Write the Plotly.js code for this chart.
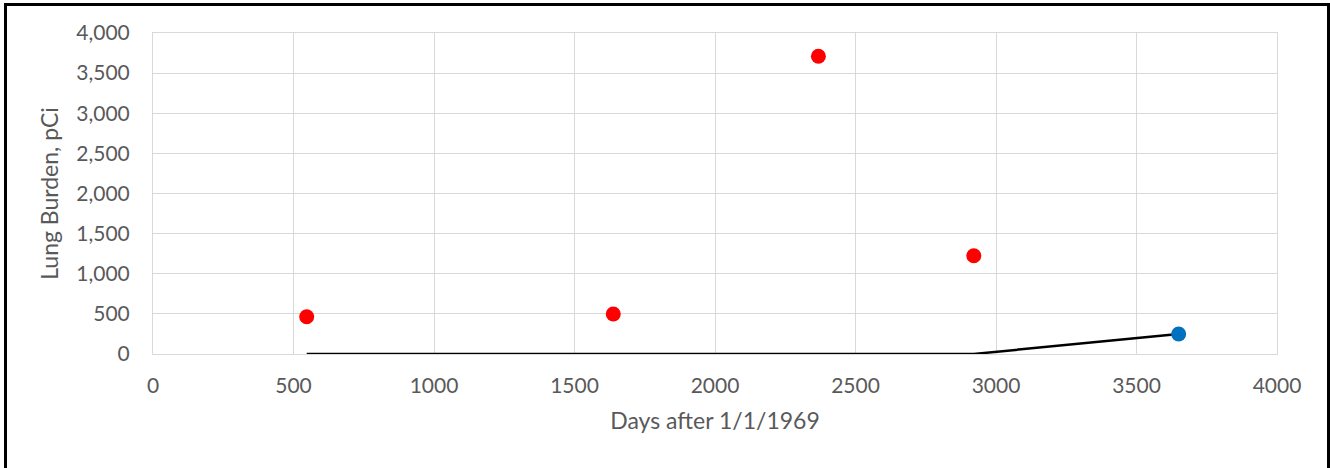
<!DOCTYPE html>
<html>
<head>
<meta charset="utf-8">
<script src="https://cdn.plot.ly/plotly-3.0.1.min.js"></script>
<style>
  html, body { margin: 0; padding: 0; background: #fff; }
  #wrap { position: relative; width: 1330px; height: 468px; overflow: hidden; }
  #chart { position: absolute; left: 0; top: 0; width: 1330px; height: 468px; }
  #frame { position: absolute; left: 4px; top: 3px; width: 1320px; height: 480px;
           border: 3px solid #000; border-bottom: none; pointer-events: none; }
</style>
</head>
<body>
<div id="wrap">
  <div id="chart"></div>
  <div id="frame"></div>
</div>
<script>
// Measured lung burden (red)
var daysMeasured = [547, 1638, 2368, 2921];
var burdenMeasured = [465, 498, 3710, 1225];
// Model line (black)
var daysModel = [547, 2921, 3650];
var burdenModel = [0, 0, 250];
// Final value (blue)
var daysFinal = [3650];
var burdenFinal = [250];

var xTitle = 'Days after 1/1/1969';
var yTitle = 'Lung Burden, pCi';

var FONT = 'Lato, "Open Sans", sans-serif';
var GREY = '#595959';

var traces = [
  { x: daysModel, y: burdenModel, type: 'scatter', mode: 'lines',
    line: { color: '#000000', width: 2.5 }, hoverinfo: 'skip', cliponaxis: false },
  { x: daysMeasured, y: burdenMeasured, type: 'scatter', mode: 'markers',
    marker: { color: '#ff0000', size: 15 }, cliponaxis: false },
  { x: daysFinal, y: burdenFinal, type: 'scatter', mode: 'markers',
    marker: { color: '#0070c0', size: 15 }, cliponaxis: false }
];

var layout = {
  width: 1330, height: 468,
  margin: { l: 153, r: 53, t: 33, b: 114, pad: 0 },
  paper_bgcolor: '#ffffff', plot_bgcolor: '#ffffff',
  showlegend: false,
  font: { family: FONT, color: GREY, size: 20 },
  xaxis: {
    range: [0, 4000], dtick: 500, tick0: 0, layer: 'below traces',
    showgrid: true, gridcolor: '#d9d9d9', gridwidth: 1,
    zeroline: false, showline: true, linecolor: '#d9d9d9', linewidth: 1, mirror: true,
    ticks: '', ticklabelstandoff: 13,
    tickfont: { family: FONT, size: 21, color: GREY },
    title: { text: xTitle, font: { family: FONT, size: 23, color: GREY }, standoff: 16 }
  },
  yaxis: {
    range: [0, 4000], dtick: 500, tick0: 0, tickformat: ',', layer: 'below traces',
    showgrid: true, gridcolor: '#d9d9d9', gridwidth: 1,
    zeroline: false, showline: true, linecolor: '#d9d9d9', linewidth: 1, mirror: true,
    ticks: '', ticklabelstandoff: 18,
    tickfont: { family: FONT, size: 21, color: GREY },
    title: { text: yTitle, font: { family: FONT, size: 23, color: GREY }, standoff: 11 }
  }
};

Plotly.newPlot('chart', traces, layout, { displayModeBar: false, staticPlot: true });
</script>
</body>
</html>
